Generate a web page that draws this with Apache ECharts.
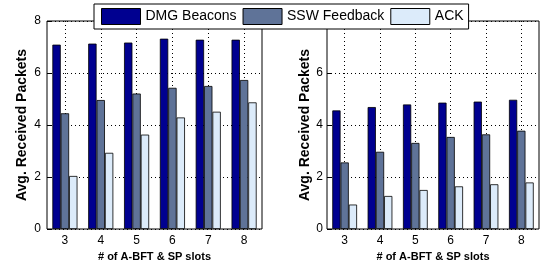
<!DOCTYPE html>
<html>
<head>
<meta charset="utf-8">
<script src="https://cdn.jsdelivr.net/npm/echarts@6/dist/echarts.min.js"></script>
<style>
  html, body { margin: 0; padding: 0; background: #fff; }
  #main { width: 540px; height: 268px; }
</style>
</head>
<body>
<div id="main"></div>
<script>
// data
var slots = ['3', '4', '5', '6', '7', '8'];
var seriesNames = ['DMG Beacons', 'SSW Feedback', 'ACK'];
var yTicks = [0, 2, 4, 6, 8];

var leftDMG = [7.09, 7.13, 7.17, 7.32, 7.28, 7.28];
var leftSSW = [4.45, 4.96, 5.21, 5.43, 5.50, 5.73];
var leftACK = [2.04, 2.93, 3.63, 4.29, 4.51, 4.87];

var rightDMG = [4.56, 4.69, 4.79, 4.86, 4.90, 4.97];
var rightSSW = [2.56, 2.97, 3.31, 3.54, 3.64, 3.78];
var rightACK = [0.94, 1.27, 1.50, 1.64, 1.72, 1.79];

var colors = ['#000090', '#5f7398', '#dcebfa'];

var myChart = echarts.init(document.getElementById('main'));

function xAxisOf(gi) {
    return {
        type: 'category',
        gridIndex: gi,
        data: slots,
        name: '# of A-BFT & SP slots',
        nameLocation: 'middle',
        nameGap: 22,
        nameTextStyle: { fontFamily: 'Liberation Sans', fontWeight: 'bold', fontSize: 11, color: '#000' },
        axisLine: { show: false },
        axisTick: { show: true, inside: true, alignWithLabel: true, length: 4, lineStyle: { color: '#000' } },
        axisLabel: { fontFamily: 'Liberation Sans', fontSize: 12, color: '#000', margin: 6 },
        splitLine: { show: true, alignWithLabel: true, lineStyle: { color: '#000', type: [1, 3], width: 1 } }
    };
}

function yAxisOf(gi, gap, margin) {
    return {
        type: 'value',
        gridIndex: gi,
        min: yTicks[0],
        max: yTicks[yTicks.length - 1],
        interval: yTicks[1] - yTicks[0],
        name: 'Avg. Received Packets',
        nameLocation: 'middle',
        nameGap: gap,
        nameTextStyle: { fontFamily: 'Liberation Sans', fontWeight: 'bold', fontSize: 14, color: '#000' },
        axisLine: { show: false },
        axisTick: { show: true, inside: true, length: 4, lineStyle: { color: '#000' } },
        axisLabel: { fontFamily: 'Liberation Sans', fontSize: 12, color: '#000', margin: margin },
        splitLine: { show: true, lineStyle: { color: '#000', type: [1, 3], width: 1 } }
    };
}

function barsOf(values, idx, gi) {
    return {
        name: seriesNames[idx],
        type: 'bar',
        xAxisIndex: gi,
        yAxisIndex: gi,
        data: values,
        barGap: '0%',
        barCategoryGap: '30%',
        itemStyle: { color: colors[idx], borderColor: '#000', borderWidth: 0.8 },
        emphasis: { disabled: true }
    };
}

var option = {
    animation: false,
    backgroundColor: '#fff',
    color: colors,
    legend: {
        data: seriesNames,
        icon: 'rect',
        left: 94,
        top: 4,
        padding: [4, 5, 4, 7],
        itemGap: 6,
        itemWidth: 39,
        itemHeight: 16,
        backgroundColor: '#fff',
        borderColor: '#000',
        borderWidth: 1,
        borderRadius: 0,
        z: 10,
        itemStyle: { borderColor: '#000', borderWidth: 1 },
        textStyle: { fontFamily: 'Liberation Sans', fontSize: 14, color: '#000' }
    },
    grid: [
        { left: 47, top: 21, width: 215, height: 208, show: true, borderColor: '#000', borderWidth: 1, backgroundColor: '#fff' },
        { left: 327, top: 21, width: 212, height: 208, show: true, borderColor: '#000', borderWidth: 1, backgroundColor: '#fff' }
    ],
    xAxis: [xAxisOf(0), xAxisOf(1)],
    yAxis: [yAxisOf(0, 18, 6), yAxisOf(1, 15, 4)],
    series: [
        barsOf(leftDMG, 0, 0),
        barsOf(leftSSW, 1, 0),
        barsOf(leftACK, 2, 0),
        barsOf(rightDMG, 0, 1),
        barsOf(rightSSW, 1, 1),
        barsOf(rightACK, 2, 1)
    ]
};

myChart.setOption(option);
</script>
</body>
</html>
